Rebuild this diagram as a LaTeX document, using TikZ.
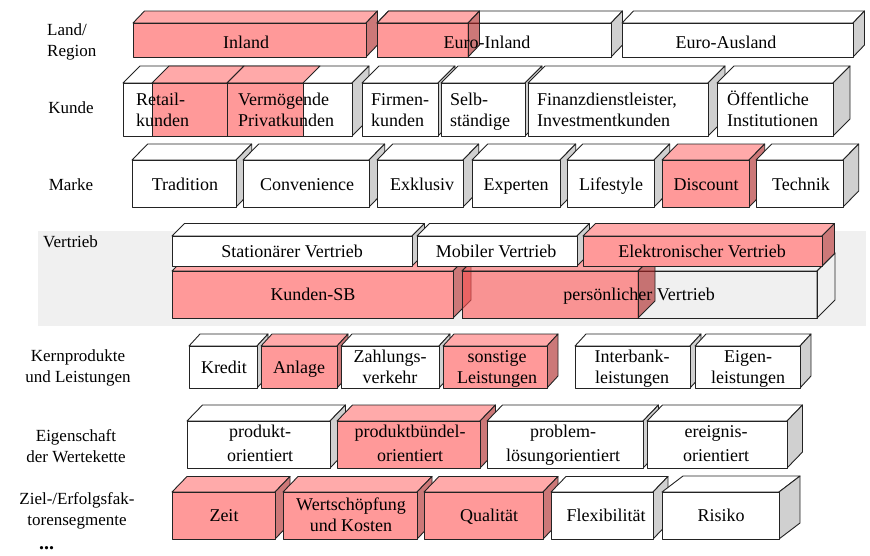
\documentclass[tikz,border=0pt]{standalone}
\usepackage{fontspec}
\setmainfont{Liberation Serif}

\definecolor{boxline}{RGB}{35,35,35}
\definecolor{sidegray}{RGB}{208,208,208}
\definecolor{redfront}{RGB}{255,153,153}
\definecolor{redtop}{RGB}{255,170,170}
\definecolor{redside}{RGB}{204,120,120}
\definecolor{ovfront}{RGB}{255,85,85}
\definecolor{ovtop}{RGB}{255,113,113}
\definecolor{ovside}{RGB}{170,30,30}
\definecolor{panelgray}{RGB}{240,240,240}

% 3D block: #1 kind, front face (#2,#3)-(#4,#5), depth #6 to the right, #7 upwards
\newcommand{\cuboid}[7]{%
  \path[#1 top] (#2,#3) -- ({#2+#6},{#3-#7}) -- ({#4+#6},{#3-#7}) -- (#4,#3) -- cycle;
  \path[#1 side] (#4,#3) -- ({#4+#6},{#3-#7}) -- ({#4+#6},{#5-#7}) -- (#4,#5) -- cycle;
  \path[#1 front] (#2,#3) rectangle (#4,#5);
}

\begin{document}
\begin{tikzpicture}[x=1pt,y=-1pt,
  outline/.style={draw=boxline,line width=0.9pt,line join=round},
  w front/.style={outline,fill=white},
  w top/.style={outline,fill=white},
  w side/.style={outline,fill=sidegray},
  r front/.style={outline,fill=redfront},
  r top/.style={outline,fill=redtop},
  r side/.style={outline,fill=redside},
  o front/.style={outline,fill=ovfront,fill opacity=0.6},
  o top/.style={outline,fill=ovtop,fill opacity=0.6},
  o side/.style={outline,fill=ovside,fill opacity=0.6},
  q front/.style={outline,fill=ovfront,fill opacity=0.6},
  q top/.style={outline,fill=ovtop,fill opacity=0.6},
  q side/.style={},
  p front/.style={outline},
  p top/.style={outline},
  p side/.style={outline},
  txt/.style={anchor=base,inner sep=0pt,font=\fontsize{18}{21}\selectfont,align=center},
  txtl/.style={txt,anchor=base west,align=left},
  head/.style={anchor=base,inner sep=0pt,font=\fontsize{17}{20.5}\selectfont,align=center},
]
\useasboundingbox (0,0) rectangle (870,555);

% ---- Land/Region
\cuboid{r}{133}{23}{366}{57}{11.5}{12}
\cuboid{w}{377}{23}{611}{57}{11.5}{12}
\cuboid{o}{377}{23}{468}{57}{11.5}{12}
\cuboid{w}{622}{23}{853}{57}{11.5}{12}

% ---- Kunde
\cuboid{w}{123}{83}{352}{136}{17}{17}
\cuboid{q}{152}{83}{227}{136}{17}{17}
\cuboid{q}{227}{83}{303}{136}{17}{17}
\cuboid{w}{362}{83}{438}{136}{17}{17}
\cuboid{w}{441}{83}{525}{136}{17}{17}
\cuboid{w}{528}{83}{708}{136}{17}{17}
\cuboid{w}{717}{83}{833}{136}{17}{17}

% ---- Marke
\cuboid{w}{132}{160}{236}{207}{15.7}{16}
\cuboid{w}{243}{160}{369}{207}{15.7}{16}
\cuboid{w}{377}{160}{463}{207}{15.7}{16}
\cuboid{w}{472}{160}{560}{207}{15.7}{16}
\cuboid{w}{567}{160}{654}{207}{15.7}{16}
\cuboid{r}{662}{160}{749}{207}{15.7}{16}
\cuboid{w}{756}{160}{843}{207}{15.7}{16}

% ---- Vertrieb
\path[fill=panelgray] (38,231) rectangle (866,326);
\cuboid{r}{172}{271}{453}{318}{18}{18}
\cuboid{p}{462}{271}{817}{318}{18}{18}
\cuboid{o}{462}{271}{638}{318}{17}{17}
\cuboid{w}{172}{236}{412}{266}{12.5}{12.5}
\cuboid{w}{417}{236}{577}{266}{12.5}{12.5}
\cuboid{r}{583}{236}{822}{266}{12.5}{12.5}

% ---- Kernprodukte
\cuboid{w}{189}{346}{257}{388}{11}{12}
\cuboid{r}{261}{346}{337}{388}{11}{12}
\cuboid{w}{341}{346}{439}{388}{11}{12}
\cuboid{r}{443}{346}{547}{388}{11}{12}
\cuboid{w}{575}{346}{690}{388}{11}{12}
\cuboid{w}{695}{346}{800}{388}{11}{12}

% ---- Eigenschaft der Wertekette
\cuboid{w}{187}{421}{330}{468}{15.5}{16}
\cuboid{r}{337}{421}{480}{468}{15.5}{16}
\cuboid{w}{487}{421}{643}{468}{15.5}{16}
\cuboid{w}{647}{421}{787}{468}{15.5}{16}

% ---- Ziel-/Erfolgsfaktorensegmente
\cuboid{r}{172}{492}{275}{539}{15}{15.5}
\cuboid{r}{283}{492}{417}{539}{15}{15.5}
\cuboid{r}{424}{492}{543}{539}{15}{15.5}
\cuboid{w}{551}{492}{653}{539}{15}{15.5}
\cuboid{w}{662}{492}{779}{539}{21}{16}

% ---- block labels (multi-line nodes sit on the baseline of their last line)
\node[txt] (inland) at (246,48) {Inland};
\node[txt] (euroinland) at (487,48) {Euro-Inland};
\node[txt] (euroausland) at (726,48) {Euro-Ausland};

\node[txtl] (retail) at (136,126) {Retail-\\kunden};
\node[txtl] (vermoegend) at (238,126) {Vermögende\\Privatkunden};
\node[txtl] (firmen) at (371,126) {Firmen-\\kunden};
\node[txtl] (selbst) at (450,126) {Selb-\\ständige};
\node[txtl] (finanz) at (537,126) {Finanzdienstleister,\\Investmentkunden};
\node[txtl] (oeffentl) at (727,126) {Öffentliche\\Institutionen};

\node[txt] (tradition) at (185,190) {Tradition};
\node[txt] (convenience) at (307,190) {Convenience};
\node[txt] (exklusiv) at (422,190) {Exklusiv};
\node[txt] (experten) at (516,190) {Experten};
\node[txt] (lifestyle) at (611,190) {Lifestyle};
\node[txt] (discount) at (706,190) {Discount};
\node[txt] (technik) at (801,190) {Technik};

\node[txt] (stationaer) at (292,257) {Stationärer Vertrieb};
\node[txt] (mobil) at (496,257) {Mobiler Vertrieb};
\node[txt] (elektr) at (702,257) {Elektronischer Vertrieb};
\node[txt] (kundensb) at (313,300) {Kunden-SB};
\node[txt] (persoenl) at (639,300) {persönlicher Vertrieb};

\node[txt] (kredit) at (224,373) {Kredit};
\node[txt] (anlage) at (299,373) {Anlage};
\node[txt] (zahlung) at (390,383.5) {Zahlungs-\\verkehr};
\node[txt] (sonstige) at (497,383.5) {sonstige\\Leistungen};
\node[txt] (interbank) at (632,383.5) {Interbank-\\leistungen};
\node[txt] (eigenl) at (748,383.5) {Eigen-\\leistungen};

\node[txt,font=\fontsize{18}{24}\selectfont] (produkt) at (260,461) {produkt-\\orientiert};
\node[txt,font=\fontsize{18}{24}\selectfont] (buendel) at (410,461) {produktbündel-\\orientiert};
\node[txt,font=\fontsize{18}{24}\selectfont] (problem) at (563,461) {problem-\\lösungorientiert};
\node[txt,font=\fontsize{18}{24}\selectfont] (ereignis) at (716,461) {ereignis-\\orientiert};

\node[txt] (zeit) at (224,521) {Zeit};
\node[txt] (wertsch) at (351,531.5) {Wertschöpfung\\und Kosten};
\node[txt] (qualitaet) at (489,521) {Qualität};
\node[txt] (flexib) at (606,521) {Flexibilität};
\node[txt] (risiko) at (721,521) {Risiko};

% ---- row headings
\node[head,anchor=base west,align=left] (hland) at (47,56) {Land/\\Region};
\node[head] (hkunde) at (71,113) {Kunde};
\node[head] (hmarke) at (71,190) {Marke};
\node[head,anchor=base west] (hvertrieb) at (43,247) {Vertrieb};
\node[head] (hkern) at (78,382) {Kernprodukte\\und Leistungen};
\node[head] (heigen) at (76,462) {Eigenschaft\\der Wertekette};
\node[head] (hziel) at (77,525) {Ziel-/Erfolgsfak-\\torensegmente};
\node[head,anchor=base west,font=\fontsize{20}{20}\selectfont\bfseries] (hmore) at (39,549) {...};
\end{tikzpicture}
\end{document}
